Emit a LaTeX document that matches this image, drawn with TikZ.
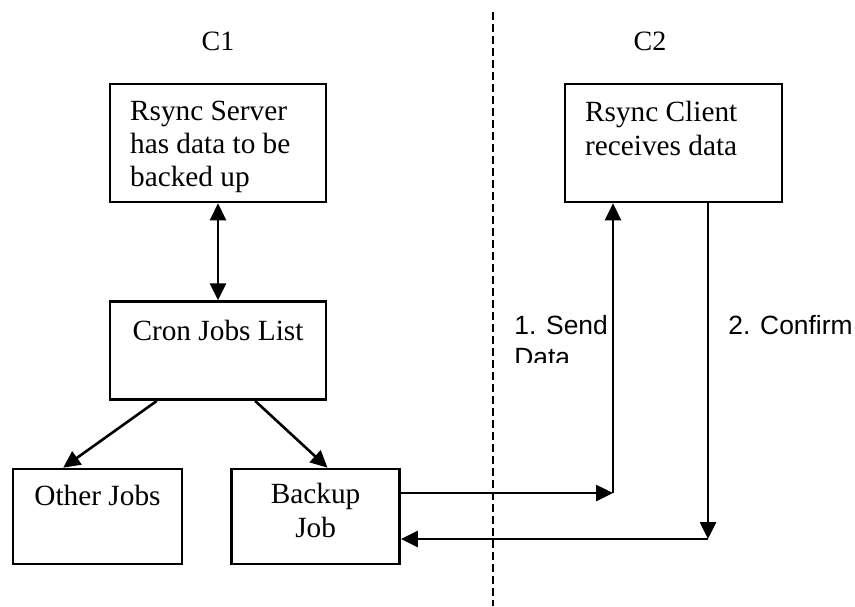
\documentclass[tikz,border=0pt]{standalone}
\usepackage{fontspec}
\setmainfont{Liberation Serif}
\newfontfamily\labelfont{Liberation Sans}
\usetikzlibrary{arrows.meta}
\usetikzlibrary{calc,positioning}

\begin{document}
\begin{tikzpicture}[x=0.5pt, y=-0.5pt,
    >={Triangle[length=8.5pt, width=8pt]},
    box/.style={rectangle, draw=black, line width=1.3pt, inner sep=0pt},
    boxtext/.style={inner sep=0pt, font=\fontsize{14.65pt}{16.4pt}\selectfont},
    arrowlabel/.style={inner sep=0pt, align=left, font=\labelfont\fontsize{13.2pt}{16pt}\selectfont},
    link/.style={line width=1.3pt, ->},
    divider/.style={line width=1.3pt, dash pattern=on 4pt off 2pt},]
    \useasboundingbox (0,0) rectangle (855,606);

    \node (c1) [boxtext, anchor=base, font=\fontsize{14pt}{16pt}\selectfont] at (218,50) {C1};
    \node (c2) [boxtext, anchor=base, font=\fontsize{14pt}{16pt}\selectfont] at (650,50) {C2};

    \draw [divider] (493,12) -- (493,606);

    \node (server) [box, minimum width=108pt, minimum height=59pt] at (218,143) {};
    \node (servertext) [boxtext, align=left, anchor=north west] at ($(server.north west)+(21,18)$)
    {Rsync Server\\ has data to be\\ backed up};

    \node (cron) [box, minimum width=108pt, minimum height=49pt, below=48.5pt of server] {};
    \node (crontext) [boxtext, anchor=north] at ($(cron.north)+(0,19)$) {Cron Jobs List};

    \node (other) [box, minimum width=84.5pt, minimum height=47.5pt] at (97.5,516.5) {};
    \node (othertext) [boxtext, anchor=north] at ($(other.north)+(0,17)$) {Other Jobs};

    \node (backup) [box, minimum width=84pt, minimum height=47.5pt, right=23.5pt of other] {};
    \node (backuptext) [boxtext, align=center, anchor=north, font=\fontsize{14.65pt}{17.2pt}\selectfont]
    at ($(backup.north)+(0,15)$) {Backup\\ Job};

    \node (client) [box, minimum width=108.5pt, minimum height=59pt] at (673.5,143) {};
    \node (clienttext) [boxtext, align=left, anchor=north west, font=\fontsize{14.65pt}{17.2pt}\selectfont]
    at ($(client.north west)+(21,18)$) {Rsync Client\\ receives data};

    \draw [link, <->] (server) -- (cron);
    \draw [link] ($(cron.south west)!0.22!(cron.south east)$) -- ($(other.north west)!0.3!(other.north east)$);
    \draw [link] ($(cron.south west)!0.67!(cron.south east)$) -- ($(backup.north west)!0.57!(backup.north east)$);

    \coordinate (sendturn) at (613,493);
    \coordinate (confirmturn) at (708,539);
    \draw [link] (backup.east |- sendturn) -- (sendturn);
    \draw [link] (sendturn) -- (client.south -| sendturn);
    \draw [link] (client.south -| confirmturn) -- (confirmturn);
    \draw [link] (confirmturn) -- (backup.east |- confirmturn);

    \begin{scope}
        \clip (505,300) rectangle (609,362);
        \node (sendlabel) [arrowlabel, anchor=north west] at (514,315) {1. Send\\ Data};
    \end{scope}
    \node (confirmlabel) [arrowlabel, anchor=north west] at (728,315) {2. Confirm};
\end{tikzpicture}
\end{document}
